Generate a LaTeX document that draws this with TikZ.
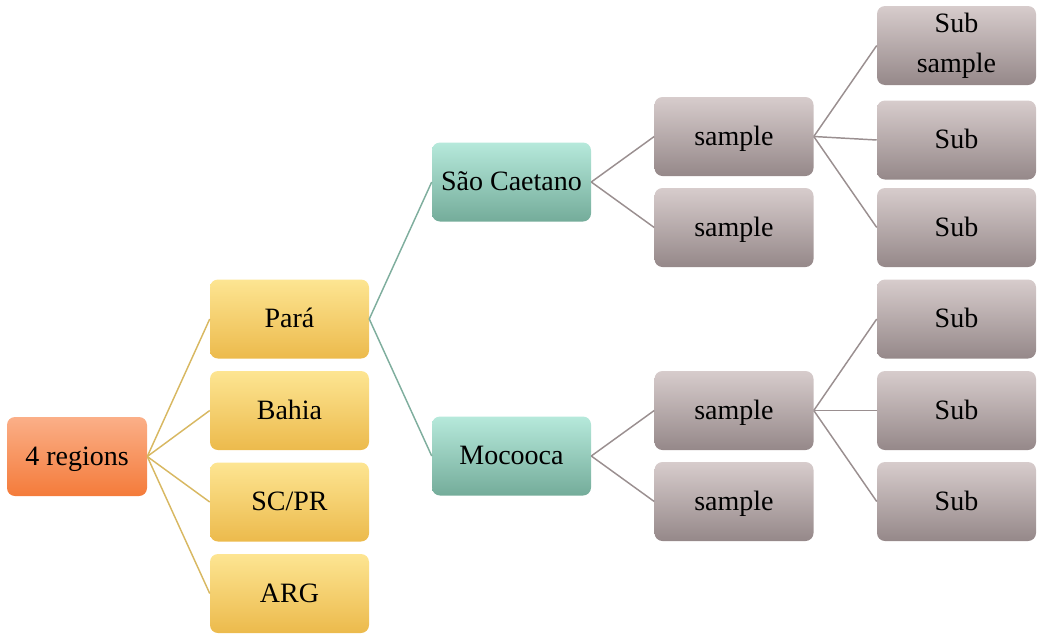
\documentclass[tikz,border=0pt]{standalone}
\usepackage{fontspec}
\setmainfont{Liberation Serif}
\definecolor{orT}{HTML}{FBAF88}
\definecolor{orB}{HTML}{F47B3A}
\definecolor{goT}{HTML}{FDE592}
\definecolor{goB}{HTML}{ECBA4C}
\definecolor{teT}{HTML}{B6E9DB}
\definecolor{teB}{HTML}{74AC9A}
\definecolor{grT}{HTML}{D7CCCC}
\definecolor{grB}{HTML}{958889}
\definecolor{goL}{HTML}{D8B862}
\definecolor{teL}{HTML}{7FAE9E}
\definecolor{grL}{HTML}{9A8F90}
\tikzset{
  box/.style={rounded corners=6pt, minimum width=119.25pt, minimum height=59.25pt,
    inner sep=0pt, align=center, font=\fontsize{21}{30}\selectfont, text=black,
    text height=15.75pt, text depth=3pt},
  orbox/.style={box, minimum width=105pt, top color=orT, bottom color=orB},
  gobox/.style={box, top color=goT, bottom color=goB},
  tebox/.style={box, top color=teT, bottom color=teB},
  grbox/.style={box, top color=grT, bottom color=grB},
  twoline/.style={text height=, text depth=, yshift=-2pt},
  goline/.style={draw=goL, line width=1.1pt},
  teline/.style={draw=teL, line width=1.1pt},
  grline/.style={draw=grL, line width=1.1pt},
}
\begin{document}
\begin{tikzpicture}[x=0.75pt,y=-0.75pt]
\useasboundingbox (0,0) rectangle (1043,636);
\node[orbox] (root) at (77,456.5) {4 regions};
\node[gobox] (para) at (289.5,319) {Pará};
\node[gobox] (bahia) at (289.5,410.5) {Bahia};
\node[gobox] (scpr) at (289.5,502) {SC/PR};
\node[gobox] (arg) at (289.5,593.5) {ARG};
\node[tebox] (sc) at (511.5,182) {São Caetano};
\node[tebox] (mo) at (511.5,456) {Mocooca};
\node[grbox] (s1) at (734,136.5) {sample};
\node[grbox] (s2) at (734,227.5) {sample};
\node[grbox] (s3) at (734,410.5) {sample};
\node[grbox] (s4) at (734,501.5) {sample};
\node[grbox, text height=, text depth=] (u1) at (956.5,45.5) {Sub\\sample};
\node[grbox] (u2) at (956.5,140) {Sub};
\node[grbox] (u3) at (956.5,227.5) {Sub};
\node[grbox] (u4) at (956.5,319) {Sub};
\node[grbox] (u5) at (956.5,410.5) {Sub};
\node[grbox] (u6) at (956.5,501.5) {Sub};
\foreach \t in {para,bahia,scpr,arg} \draw[goline] (root.east) -- (\t.west);
\foreach \t in {sc,mo} \draw[teline] (para.east) -- (\t.west);
\foreach \t in {s1,s2} \draw[grline] (sc.east) -- (\t.west);
\foreach \t in {s3,s4} \draw[grline] (mo.east) -- (\t.west);
\foreach \t in {u1,u2,u3} \draw[grline] (s1.east) -- (\t.west);
\foreach \t in {u4,u5,u6} \draw[grline] (s3.east) -- (\t.west);
\end{tikzpicture}
\end{document}
